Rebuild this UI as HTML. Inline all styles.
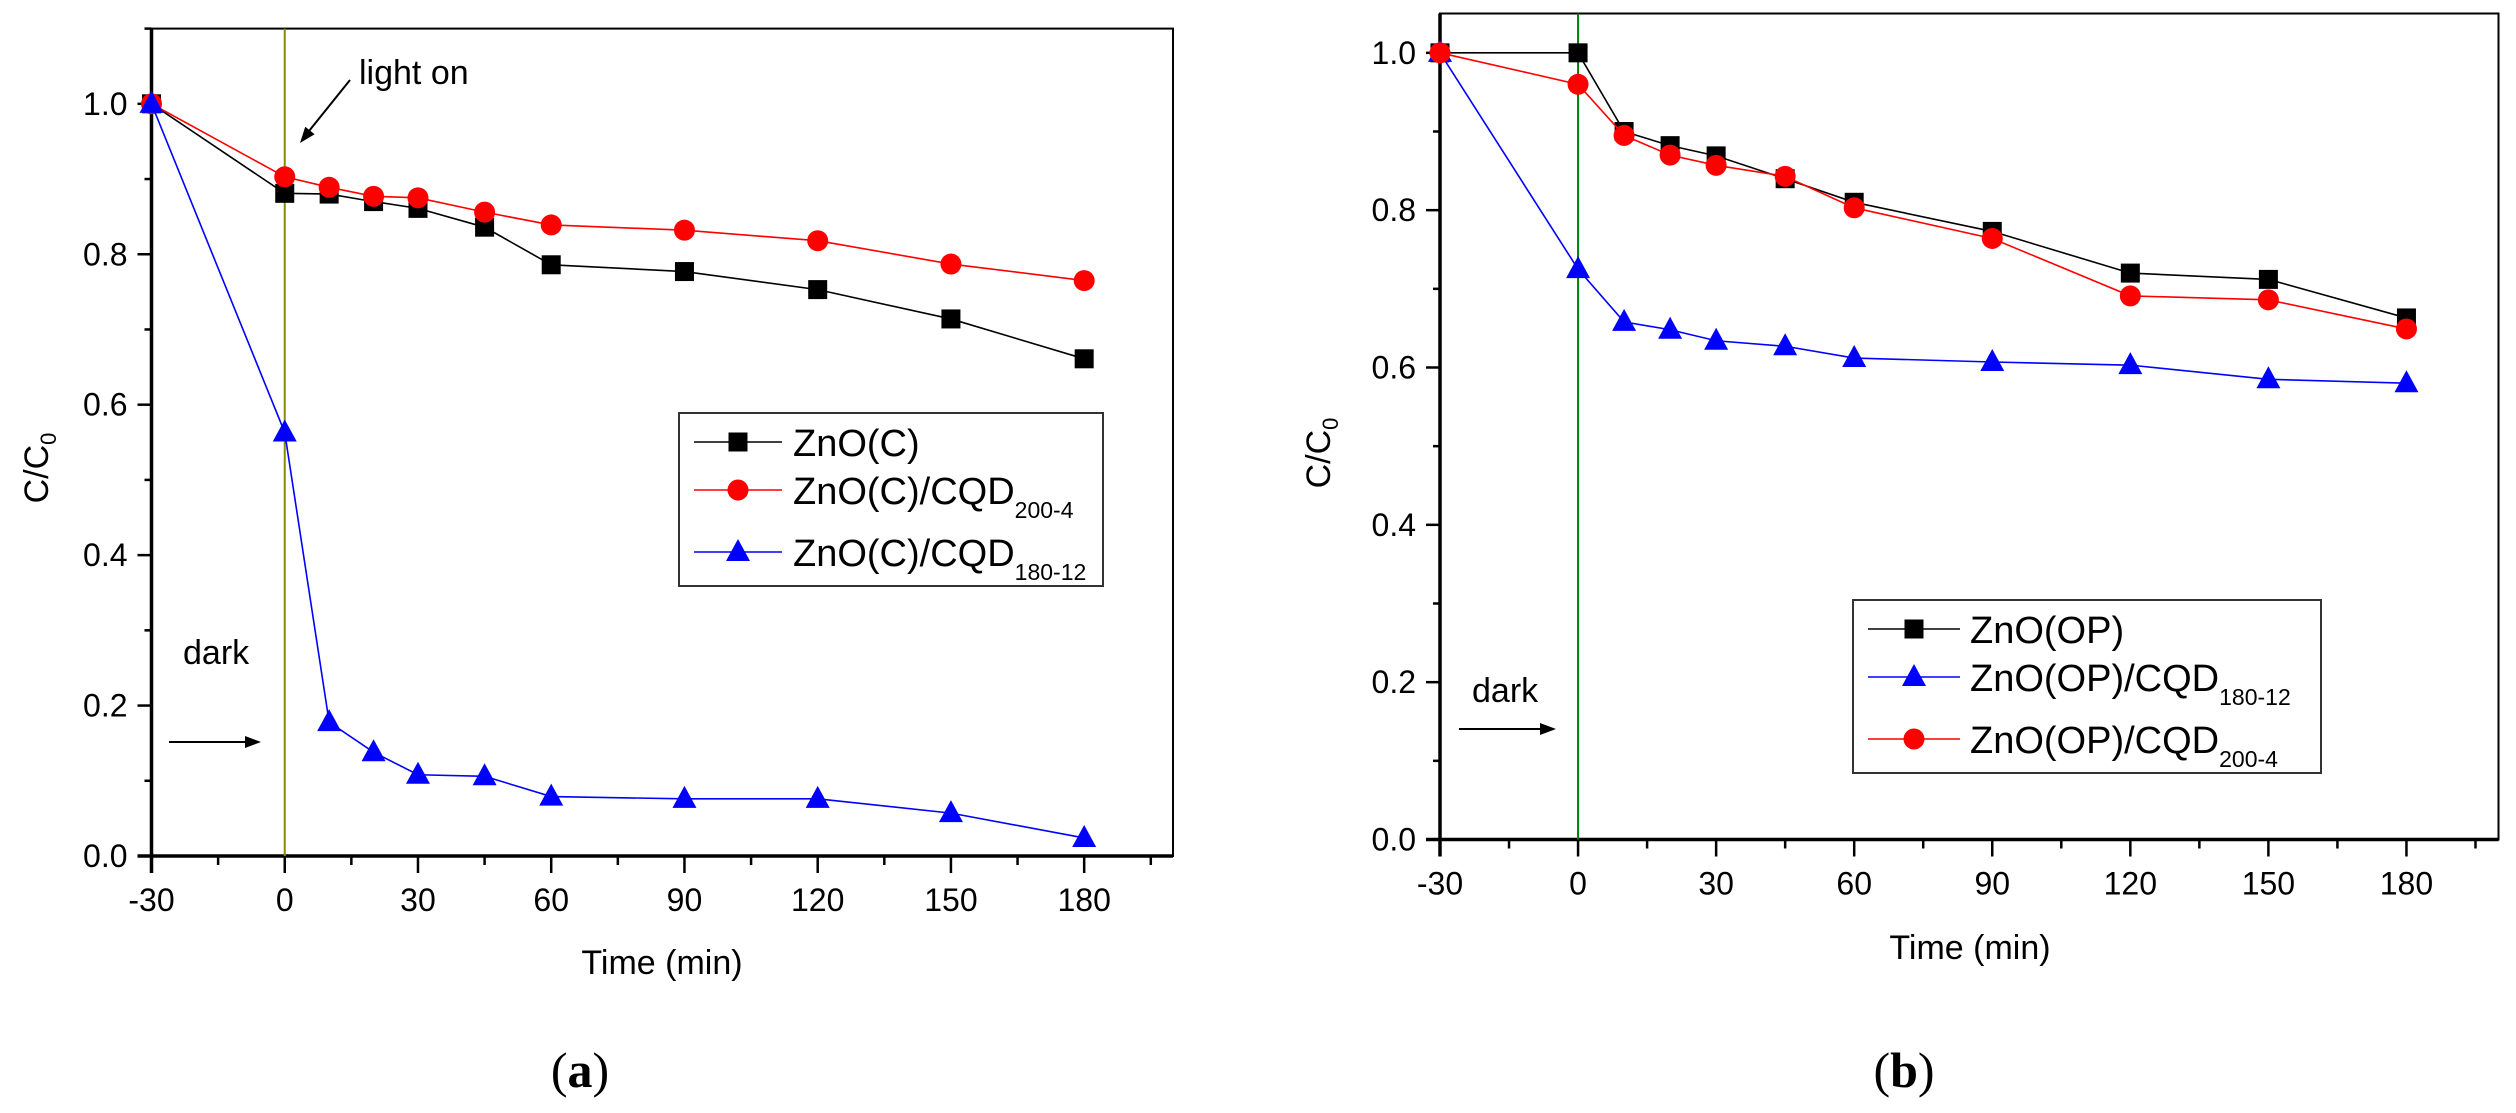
<!DOCTYPE html>
<html><head><meta charset="utf-8"><style>
html,body{margin:0;padding:0;background:#fff;}
svg{display:block;font-family:"Liberation Sans",Arial,sans-serif;}
</style></head><body>
<svg id="fig" width="2516" height="1113" viewBox="0 0 2516 1113" xmlns="http://www.w3.org/2000/svg"></svg>
<script>
const times = [-30, 0, 10, 20, 30, 45, 60, 90, 120, 150, 180];
const aZnO = [1.0, 0.881, 0.88, 0.870, 0.861, 0.836, 0.786, 0.777, 0.753, 0.714, 0.661];
const aCQD200 = [1.0, 0.903, 0.889, 0.877, 0.875, 0.856, 0.839, 0.832, 0.818, 0.787, 0.765];
const aCQD180 = [1.0, 0.563, 0.178, 0.138, 0.108, 0.106, 0.079, 0.076, 0.076, 0.057, 0.024];
const bZnO = [1.0, 1.0, 0.90, 0.882, 0.869, 0.840, 0.810, 0.773, 0.720, 0.712, 0.663];
const bCQD180 = [1.0, 0.725, 0.658, 0.648, 0.634, 0.627, 0.612, 0.607, 0.603, 0.585, 0.580];
const bCQD200 = [1.0, 0.960, 0.895, 0.870, 0.857, 0.843, 0.803, 0.764, 0.691, 0.686, 0.649];
const xTicks = [-30, 0, 30, 60, 90, 120, 150, 180];
const yTicks = [0.0, 0.2, 0.4, 0.6, 0.8, 1.0];

const NS = "http://www.w3.org/2000/svg";
const svg = document.getElementById('fig');
function mk(tag, attrs, parent) {
  const e = document.createElementNS(NS, tag);
  for (const k in attrs) e.setAttribute(k, attrs[k]);
  (parent || svg).appendChild(e);
  return e;
}

function drawPanel(p) {
  const g = mk('g', {});
  
  
  const X = t => p.x0 + (t - p.tmin) * (p.x1 - p.x0) / (p.tmax - p.tmin);
  const Y = v => p.y0 - (v - p.vmin) * (p.y0 - p.y1) / (p.vmax - p.vmin);
  // frame
  const fr = mk('rect', {x: p.x0, y: p.y1, width: p.x1 - p.x0, height: p.y0 - p.y1, fill: 'none', stroke: '#000', 'stroke-width': 2}, g);
  
  
  const ax = mk('line', {x1: p.x0 - 14, y1: p.y0, x2: p.x1, y2: p.y0, stroke: '#000', 'stroke-width': 3.5}, g);
  
  
  const ay = mk('line', {x1: p.x0, y1: p.y1, x2: p.x0, y2: p.y0 + 17, stroke: '#000', 'stroke-width': 3.5}, g);
  
  
  // x ticks
  for (let t = p.tmin; t < p.tmax; t += 15) {
    const major = (t % 30 === 0);
    mk('line', {x1: X(t), y1: p.y0, x2: X(t), y2: p.y0 + (major ? 17 : 9), stroke: '#000', 'stroke-width': 2.5}, g);
  }
  xTicks.forEach(t => {
    const tx = mk('text', {x: X(t), y: p.y0 + 55, 'font-size': 32, 'text-anchor': 'middle'}, g);
    
    
    tx.textContent = t;
  });
  // y ticks
  for (let i = 0; i * 0.1 <= p.vmax + 1e-9; i++) {
    const v = i * 0.1;
    const major = (i % 2 === 0);
    mk('line', {x1: p.x0 - (major ? 14 : 7), y1: Y(v), x2: p.x0, y2: Y(v), stroke: '#000', 'stroke-width': 2.5}, g);
  }
  yTicks.forEach(v => {
    const ty = mk('text', {x: p.x0 - 24, y: Y(v) + 11, 'font-size': 32, 'text-anchor': 'end'}, g);
    
    
    ty.textContent = v.toFixed(1);
  });
  // axis titles
  const xt = mk('text', {x: p.xtx, y: p.xty, 'font-size': 34, 'text-anchor': 'middle'}, g);
  
  
  xt.textContent = 'Time (min)';
  const yt = mk('text', {x: 0, y: 0, 'font-size': 34, 'text-anchor': 'middle', transform: `translate(${p.ytx},${p.yty}) rotate(-90)`}, g);
  
  
  yt.innerHTML = 'C/C<tspan font-size="22" dy="8">0</tspan>';
  // light-on line
  const vl = mk('line', {x1: X(0), y1: p.y1, x2: X(0), y2: p.y0, stroke: p.vlColor, 'stroke-width': 2}, g);
  
  
  // series
  p.series.forEach(s => {
    const sg = mk('g', {}, g);
    
    
    mk('polyline', {points: times.map((t, i) => X(t) + ',' + Y(s.data[i])).join(' '), fill: 'none', stroke: s.color, 'stroke-width': 1.6}, sg);
    times.forEach((t, i) => marker(sg, s.shape, X(t), Y(s.data[i]), s.color));
  });
  // legend
  const lg = mk('g', {}, g);
  
  
  mk('rect', {x: p.leg.x, y: p.leg.y, width: p.leg.w, height: p.leg.h, fill: '#fff', stroke: '#333', 'stroke-width': 2}, lg);
  p.leg.items.forEach(it => {
    const s = p.series.find(q => q.id === it.id);
    const eg = mk('g', {}, lg);
    
    
    mk('line', {x1: p.leg.lx1, y1: it.y, x2: p.leg.lx2, y2: it.y, stroke: s.color, 'stroke-width': 1.6}, eg);
    marker(eg, s.shape, (p.leg.lx1 + p.leg.lx2) / 2, it.y, s.color);
    const tx = mk('text', {x: p.leg.tx, y: it.y + 14, 'font-size': 38}, eg);
    tx.innerHTML = it.label + (it.sub ? '<tspan font-size="23" dy="14">' + it.sub + '</tspan>' : '');
  });
}
function marker(parent, shape, cx, cy, color) {
  if (shape === 'square') mk('rect', {x: cx - 9.5, y: cy - 9.5, width: 19, height: 19, fill: color}, parent);
  else if (shape === 'circle') mk('circle', {cx: cx, cy: cy, r: 10.5, fill: color}, parent);
  else mk('polygon', {points: `${cx},${cy - 13} ${cx - 12},${cy + 9} ${cx + 12},${cy + 9}`, fill: color}, parent);
}
function arrowHead(g, x, y, ang) {
  const a = ang, L = 16, W = 6;
  const bx = x - L * Math.cos(a), by = y - L * Math.sin(a);
  mk('polygon', {points: `${x},${y} ${bx + W * Math.sin(a)},${by - W * Math.cos(a)} ${bx - W * Math.sin(a)},${by + W * Math.cos(a)}`, fill: '#000'}, g);
}

drawPanel({
  name: 'panel-a', x0: 151.5, x1: 1173, y0: 856, y1: 28.6, tmin: -30, tmax: 200, vmin: 0, vmax: 1.1,
  xtx: 662, xty: 974, ytx: 48, yty: 468, vlColor: '#8b8b00',
  series: [
    {id: 'series-zno-c', data: aZnO, color: '#000', shape: 'square'},
    {id: 'series-zno-c-cqd200-4', data: aCQD200, color: '#ff0000', shape: 'circle'},
    {id: 'series-zno-c-cqd180-12', data: aCQD180, color: '#0000ff', shape: 'triangle'}
  ],
  leg: {x: 679, y: 413, w: 424, h: 173, lx1: 694, lx2: 782, tx: 793, items: [
    {id: 'series-zno-c', y: 442, label: 'ZnO(C)'},
    {id: 'series-zno-c-cqd200-4', y: 490, label: 'ZnO(C)/CQD', sub: '200-4'},
    {id: 'series-zno-c-cqd180-12', y: 552, label: 'ZnO(C)/CQD', sub: '180-12'}
  ]}
});
drawPanel({
  name: 'panel-b', x0: 1440, x1: 2498.5, y0: 839.5, y1: 13.5, tmin: -30, tmax: 200, vmin: 0, vmax: 1.05,
  xtx: 1970, xty: 959, ytx: 1330, yty: 453, vlColor: '#008000',
  series: [
    {id: 'series-zno-op', data: bZnO, color: '#000', shape: 'square'},
    {id: 'series-zno-op-cqd180-12', data: bCQD180, color: '#0000ff', shape: 'triangle'},
    {id: 'series-zno-op-cqd200-4', data: bCQD200, color: '#ff0000', shape: 'circle'}
  ],
  leg: {x: 1853, y: 600, w: 468, h: 173, lx1: 1868, lx2: 1960, tx: 1970, items: [
    {id: 'series-zno-op', y: 629, label: 'ZnO(OP)'},
    {id: 'series-zno-op-cqd180-12', y: 677, label: 'ZnO(OP)/CQD', sub: '180-12'},
    {id: 'series-zno-op-cqd200-4', y: 739, label: 'ZnO(OP)/CQD', sub: '200-4'}
  ]}
});

// annotations
const ann = mk('g', {});


function txt(x, y, s, size, name, extra) {
  const t = mk('text', Object.assign({x: x, y: y, 'font-size': size}, extra || {}), ann);
  
  
  t.textContent = s;
  return t;
}
txt(359, 84, 'light on', 34, 'light-on-label');
mk('line', {x1: 350, y1: 80, x2: 305, y2: 136, stroke: '#000', 'stroke-width': 2}, ann);
arrowHead(ann, 300, 143, Math.atan2(63, -50));
txt(183, 664, 'dark', 34, 'dark-label-a');
mk('line', {x1: 169, y1: 742, x2: 248, y2: 742, stroke: '#000', 'stroke-width': 2}, ann);
arrowHead(ann, 261, 742, 0);
txt(1472, 702, 'dark', 34, 'dark-label-b');
mk('line', {x1: 1459, y1: 729, x2: 1543, y2: 729, stroke: '#000', 'stroke-width': 2}, ann);
arrowHead(ann, 1556, 729, 0);

const la = mk('text', {x: 580, y: 1087, 'font-size': 50, 'text-anchor': 'middle', 'font-family': '"Liberation Serif", serif'}, ann);


la.innerHTML = '(<tspan font-weight="bold">a</tspan>)';
const lb = mk('text', {x: 1904, y: 1087, 'font-size': 50, 'text-anchor': 'middle', 'font-family': '"Liberation Serif", serif'}, ann);


lb.innerHTML = '(<tspan font-weight="bold">b</tspan>)';
</script>
</body></html>
